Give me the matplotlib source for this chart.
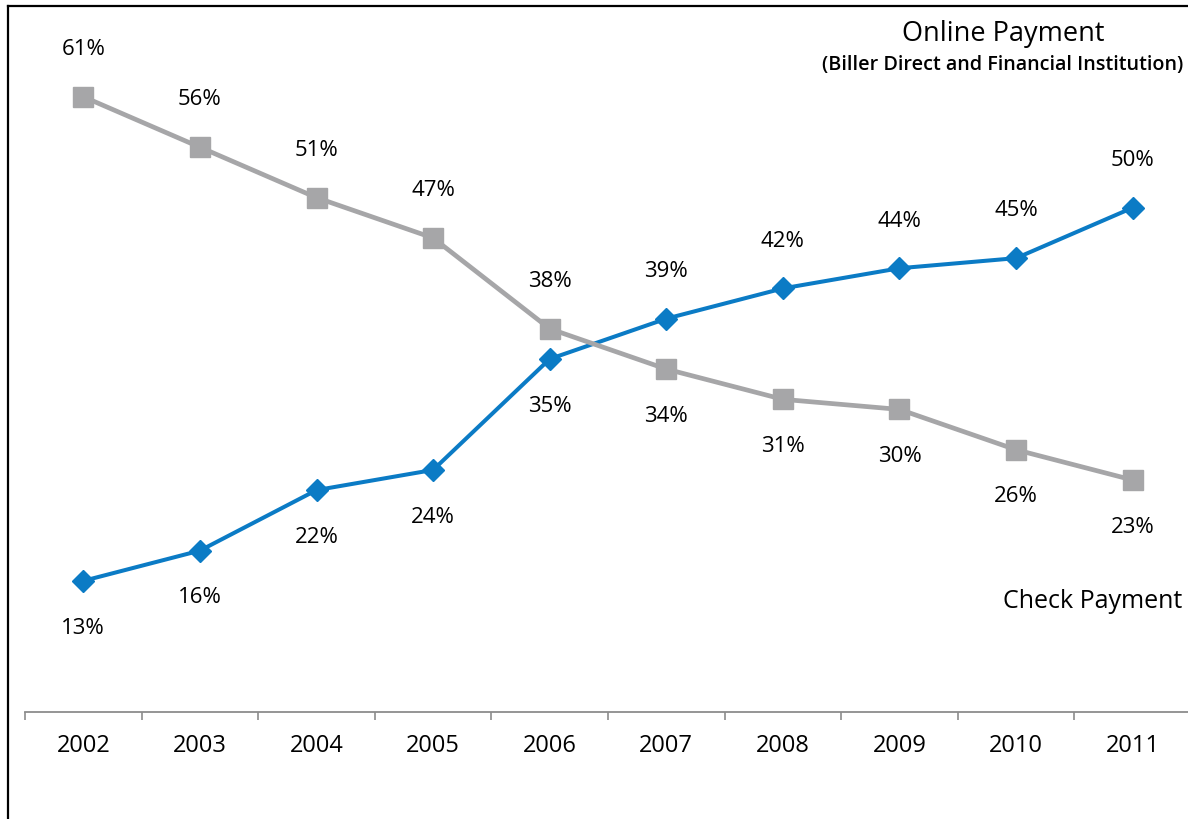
import matplotlib.pyplot as plt
from matplotlib.lines import Line2D
from matplotlib.ticker import FixedLocator

plt.rcParams['font.family'] = ['Open Sans', 'DejaVu Sans']

# Share of bill payments by year
years = ['2002', '2003', '2004', '2005', '2006', '2007', '2008', '2009', '2010', '2011']
online = [13, 16, 22, 24, 35, 39, 42, 44, 45, 50]
check = [61, 56, 51, 47, 38, 34, 31, 30, 26, 23]

blue = '#0B7BC5'
gray = '#A6A6A8'

W, H = 1188, 819
fig = plt.figure(figsize=(W / 100, H / 100), dpi=100)
ax = fig.add_axes([25 / W, (H - 712) / H, (W - 25) / W, (712 - 6) / H])

x = list(range(len(years)))
ax.plot(x, online, color=blue, lw=2.9, marker='D', ms=11, mec=blue, zorder=3)
ax.plot(x, check, color=gray, lw=3.4, marker='s', ms=14, mec=gray, zorder=4)

ax.set_xlim(-0.5, 9.5 - 3 / 116.6)
ax.set_ylim(0, 70)

# value labels: online below until the lines cross, then above; check the opposite
for i, (o, c) in enumerate(zip(online, check)):
    crossed = i >= 5
    ax.annotate(f'{o}%', (i, o), xytext=(0, 34 if crossed else -34),
                textcoords='offset points', ha='center', va='center', fontsize=16)
    ax.annotate(f'{c}%', (i, c), xytext=(0, -34 if crossed else 34),
                textcoords='offset points', ha='center', va='center', fontsize=16)

for side in ['left', 'right', 'top']:
    ax.spines[side].set_visible(False)
ax.spines['bottom'].set_color('#8C8C8C')
ax.spines['bottom'].set_linewidth(1.3)
ax.set_yticks([])
ax.set_xticks(x)
ax.set_xticklabels(years, fontsize=17)
ax.tick_params(axis='x', which='major', length=0, pad=16)
ax.xaxis.set_minor_locator(FixedLocator([i - 0.5 for i in range(len(years) + 1)]))
ax.tick_params(axis='x', which='minor', length=6, width=1.2, color='#8C8C8C', direction='out')

fig.text(1003 / W, 1 - 34 / H, 'Online Payment', ha='center', va='center', fontsize=19.5)
fig.text(1003 / W, 1 - 65 / H, '(Biller Direct and Financial Institution)',
         ha='center', va='center', fontsize=14.2, fontweight='semibold')
fig.text(1093 / W, 1 - 601 / H, 'Check Payment', ha='center', va='center', fontsize=18)

# frame lines along the top and left edges
fig.add_artist(Line2D([8 / W, 8 / W], [0, 1 - 6 / H], color='black', lw=1.6))
fig.add_artist(Line2D([8 / W, 1], [1 - 6 / H, 1 - 6 / H], color='black', lw=1.6))

fig.savefig('out.png', dpi=100)
